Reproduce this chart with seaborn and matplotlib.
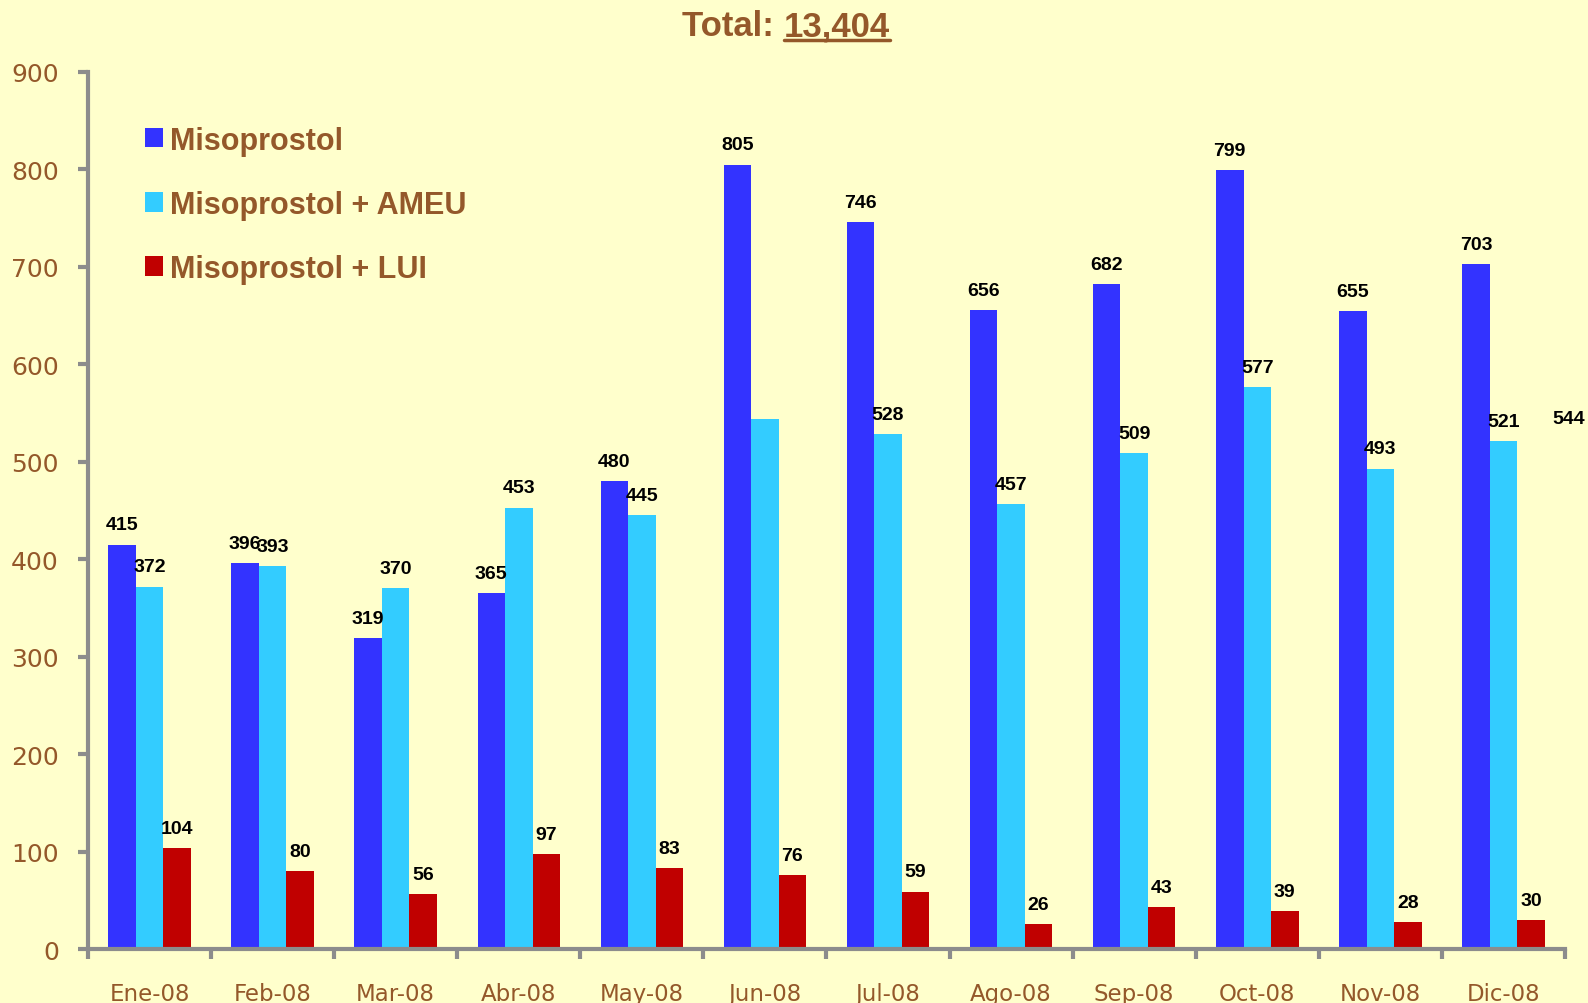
import matplotlib
matplotlib.use("Agg")
import matplotlib.pyplot as plt
from matplotlib import font_manager
from matplotlib.patches import Patch
from matplotlib.lines import Line2D
import seaborn as sns
import pandas as pd
import numpy as np

# ---- data ----
meses = ["Ene-08", "Feb-08", "Mar-08", "Abr-08", "May-08", "Jun-08",
         "Jul-08", "Ago-08", "Sep-08", "Oct-08", "Nov-08", "Dic-08"]
misoprostol = [415, 396, 319, 365, 480, 805, 746, 656, 682, 799, 655, 703]
miso_ameu = [372, 393, 370, 453, 445, 544, 528, 457, 509, 577, 493, 521]
miso_lui = [104, 80, 56, 97, 83, 76, 59, 26, 43, 39, 28, 30]
series = ["Misoprostol", "Misoprostol + AMEU", "Misoprostol + LUI"]
colores = ["#3333FF", "#33CCFF", "#C00000"]
yticks = [0, 100, 200, 300, 400, 500, 600, 700, 800, 900]
titulo = "Total: "
total_txt = "13,404"

sns.set_theme(style="white")
names = {f.name for f in font_manager.fontManager.ttflist}
narrow = "Liberation Sans Narrow" if "Liberation Sans Narrow" in names else "Liberation Sans"
plt.rcParams["font.family"] = [narrow, "DejaVu Sans"]

bg = "#FFFFCC"
brown = "#94582A"
gray = "#8C8C8C"

df = pd.DataFrame({
    "mes": meses * 3,
    "valor": misoprostol + miso_ameu + miso_lui,
    "serie": [series[0]] * 12 + [series[1]] * 12 + [series[2]] * 12,
})

fig = plt.figure(figsize=(15.88, 10.04), dpi=100, facecolor=bg)
ax = fig.add_axes([88 / 1588, 1 - 950 / 1004, (1565 - 88) / 1588, (950 - 73) / 1004])
ax.set_facecolor(bg)

sns.barplot(data=df, x="mes", y="valor", hue="serie", hue_order=series,
            palette=colores, width=0.67, saturation=1, dodge=True,
            legend=False, ax=ax, edgecolor="none", linewidth=0)

ax.set_xlim(-0.5, 11.5)
ax.set_ylim(0, 900)
ax.set_yticks(yticks)
ax.set_xlabel("")
ax.set_ylabel("")

for s in ["top", "right"]:
    ax.spines[s].set_visible(False)
for s in ["left", "bottom"]:
    ax.spines[s].set_color(gray)
    ax.spines[s].set_linewidth(3)

ax.tick_params(axis="y", direction="out", length=7, width=3, color=gray,
               labelsize=18, labelcolor=brown, pad=14, left=True)
ax.tick_params(axis="x", which="major", length=0, labelsize=16.5,
               labelcolor=brown, pad=24)
ax.set_xticks(np.arange(-0.5, 12, 1), minor=True)
ax.tick_params(axis="x", which="minor", direction="out", length=7, width=3,
               color=gray, bottom=True)
for lab in ax.get_yticklabels():
    lab.set_family(["DejaVu Sans"])
for lab in ax.get_xticklabels():
    lab.set_family(["DejaVu Sans"])

# value labels
valores = [misoprostol, miso_ameu, miso_lui]
for i, cont in enumerate(ax.containers):
    labs = [str(v) for v in valores[i]]
    if i == 1:
        labs[5] = ""
    ax.bar_label(cont, labels=labs, padding=8, fontsize=14, fontweight="bold",
                 color="black")
# misplaced label for Jun-08 AMEU, as in the reference
ax.text(11.53, miso_ameu[5], str(miso_ameu[5]), ha="center", va="center",
        fontsize=14, fontweight="bold", color="black", clip_on=False)

# legend
handles = [Patch(facecolor=c, edgecolor="none") for c in colores]
leg = fig.legend(handles, series, loc="upper left",
                 bbox_to_anchor=(117 / 1588, 1 - 99 / 1004), frameon=False,
                 prop={"weight": "bold", "size": 22}, labelcolor=brown,
                 handlelength=0.6, handleheight=0.6, handletextpad=0.25,
                 labelspacing=1.12)

# title with underlined total
t1 = fig.text(0.5, 1 - 27 / 1004, titulo, ha="right", va="center",
              fontsize=25, fontweight="bold", color=brown)
t2 = fig.text(0.5, 1 - 27 / 1004, total_txt, ha="left", va="center",
              fontsize=25, fontweight="bold", color=brown)
fig.canvas.draw()
r = fig.canvas.get_renderer()
b1 = t1.get_window_extent(r)
b2 = t2.get_window_extent(r)
total_w = b1.width + b2.width
shift = (786 - (b1.x0 + total_w / 2))
xc = 0.5 + shift / 1588
t1.set_x(xc)
t2.set_x(xc)
fig.canvas.draw()
b2 = t2.get_window_extent(r)
yline = (b2.y0 + 3) / 1004
fig.add_artist(Line2D([b2.x0 / 1588, b2.x1 / 1588], [yline, yline],
                      color=brown, linewidth=2.5, transform=fig.transFigure))

fig.savefig("out.png", dpi=100, facecolor=bg)
